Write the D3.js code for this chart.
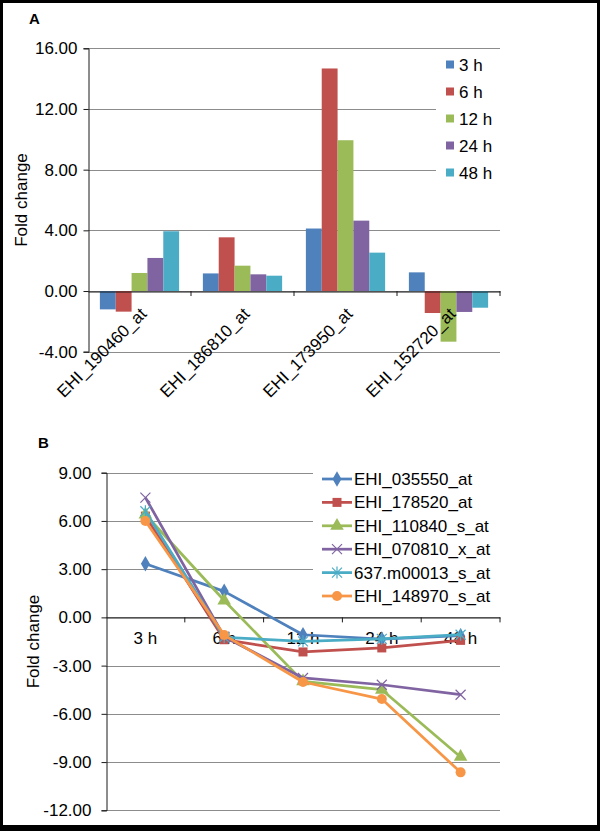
<!DOCTYPE html>
<html>
<head>
<meta charset="utf-8">
<script src="https://cdn.jsdelivr.net/npm/d3@7"></script>
<style>
  html, body { margin: 0; padding: 0; background: #fff; }
  svg { display: block; font-family: "Liberation Sans", Arial, sans-serif; }
</style>
</head>
<body>
<script>
// ---------- Data ----------
const genesA = ["EHI_190460_at", "EHI_186810_at", "EHI_173950_at", "EHI_152720_at"];
const timesA = ["3 h", "6 h", "12 h", "24 h", "48 h"];
const bar3h  = [-1.21, 1.16, 4.12, 1.23];
const bar6h  = [-1.36, 3.54, 14.67, -1.45];
const bar12h = [1.19, 1.67, 9.94, -3.34];
const bar24h = [2.18, 1.10, 4.64, -1.38];
const bar48h = [3.94, 1.01, 2.53, -1.10];
const ticksA = [-4, 0, 4, 8, 12, 16];

const timesB = ["3 h", "6 h", "12 h", "24 h", "48 h"];
const seriesNamesB = ["EHI_035550_at", "EHI_178520_at", "EHI_110840_s_at", "EHI_070810_x_at", "637.m00013_s_at", "EHI_148970_s_at"];
const s035550 = [3.34, 1.62, -1.08, -1.35, -1.14];
const s178520 = [6.3, -1.39, -2.15, -1.9, -1.43];
const s110840 = [6.4, 1.05, -3.98, -4.5, -8.68];
const s070810 = [7.45, -1.2, -3.77, -4.19, -4.81];
const s637     = [6.6, -1.24, -1.49, -1.34, -1.08];
const s148970 = [6.0, -1.1, -4.02, -5.08, -9.64];
const ticksB = [-12, -9, -6, -3, 0, 3, 6, 9];

const colors = ["#4F81BD", "#C0504D", "#9BBB59", "#8064A2", "#4BACC6", "#F79646"];

// ---------- SVG ----------
const W = 600, H = 831;
const svg = d3.select("body").append("svg").attr("width", W).attr("height", H);
svg.append("rect").attr("width", W).attr("height", H).attr("fill", "#fff");

const FONT = 17;
const gridCol = "#8c8c8c";
const axisCol = "#1a1a1a";
const fmt = d => d3.format(".2f")(d).replace("\u2212", "-");

// ================= Panel A =================
const A = { left: 88, right: 500, top: 48.3, bottom: 351.7 };
const yA = d3.scaleLinear().domain([-4, 16]).range([A.bottom, A.top]);
const x0A = d3.scaleBand().domain(genesA).range([A.left, A.right]).padding(0);
const x1A = d3.scaleBand().domain(timesA).range([0, x0A.bandwidth()]).paddingInner(0).paddingOuter(0.75);
const barSeries = [bar3h, bar6h, bar12h, bar24h, bar48h];

const gA = svg.append("g");
// gridlines
gA.append("g").selectAll("line").data(ticksA).join("line")
  .attr("x1", A.left).attr("x2", A.right)
  .attr("y1", d => Math.round(yA(d)) + 0.5).attr("y2", d => Math.round(yA(d)) + 0.5)
  .attr("stroke", gridCol).attr("stroke-width", 1);

// y axis
const yAxisA = d3.axisLeft(yA).tickValues(ticksA).tickSize(5).tickPadding(6).tickFormat(fmt);
const gyA = gA.append("g").attr("transform", `translate(${A.left + 0.5},0)`).call(yAxisA);
gyA.select(".domain").attr("stroke", axisCol);
gyA.selectAll(".tick line").attr("stroke", axisCol);
gyA.selectAll("text").attr("font-size", FONT).attr("fill", "#000").attr("font-family", "Liberation Sans, Arial, sans-serif");

// bars
genesA.forEach((g, gi) => {
  barSeries.forEach((vals, si) => {
    const v = vals[gi];
    const x = x0A(g) + x1A(timesA[si]);
    gA.append("rect")
      .attr("x", x).attr("width", x1A.bandwidth())
      .attr("y", yA(Math.max(0, v)))
      .attr("height", Math.abs(yA(v) - yA(0)))
      .attr("fill", colors[si]);
  });
});

// x axis at zero
const xAxisA = d3.axisBottom(x0A).tickSize(0).tickFormat("");
const gxA = gA.append("g").attr("transform", `translate(0,${Math.round(yA(0)) + 0.5})`).call(xAxisA);
gxA.select(".domain").attr("stroke", axisCol);
const boundsA = genesA.map(g => x0A(g)).concat([A.right]);
gA.append("g").selectAll("line").data(boundsA.slice(1)).join("line")
  .attr("x1", d => d).attr("x2", d => d)
  .attr("y1", yA(0)).attr("y2", yA(0) + 5)
  .attr("stroke", axisCol);
// category labels
gA.append("g").selectAll("text").data(genesA).join("text")
  .attr("transform", d => `translate(${x0A(d) + x0A.bandwidth() / 2 + 8},${yA(0) + 24}) rotate(-45)`)
  .attr("text-anchor", "end")
  .attr("font-size", FONT)
  .text(d => d);

// y label
gA.append("text")
  .attr("transform", `translate(27,${(A.top + A.bottom) / 2}) rotate(-90)`)
  .attr("text-anchor", "middle").attr("font-size", FONT).text("Fold change");

// panel letter
gA.append("text").attr("x", 29).attr("y", 23.5).attr("font-size", 15).attr("font-weight", "bold").text("A");

// legend A
const legA = gA.append("g");
legA.append("rect").attr("x", 436).attr("y", 52).attr("width", 80).attr("height", 134).attr("fill", "#fff");
timesA.forEach((t, i) => {
  const cy = 64.5 + i * 27;
  legA.append("rect").attr("x", 446).attr("y", cy - 4).attr("width", 8).attr("height", 8).attr("fill", colors[i]);
  legA.append("text").attr("x", 459).attr("y", cy + 6).attr("font-size", FONT).text(t);
});

// ================= Panel B =================
const B = { left: 106, right: 500, top: 472.7, bottom: 810.3 };
const yB = d3.scaleLinear().domain([-12, 9]).range([B.bottom, B.top]);
const xB = d3.scalePoint().domain(timesB).range([B.left, B.right]).padding(0.5);
const xBand = d3.scaleBand().domain(timesB).range([B.left, B.right]);
const lineSeries = [s035550, s178520, s110840, s070810, s637, s148970];

const gB = svg.append("g");
gB.append("g").selectAll("line").data(ticksB).join("line")
  .attr("x1", B.left).attr("x2", B.right)
  .attr("y1", d => Math.round(yB(d)) + 0.5).attr("y2", d => Math.round(yB(d)) + 0.5)
  .attr("stroke", gridCol).attr("stroke-width", 1);

// legend background (covers gridlines)
gB.append("rect").attr("x", 313).attr("y", 465).attr("width", 240).attr("height", 143).attr("fill", "#fff");

const yAxisB = d3.axisLeft(yB).tickValues(ticksB).tickSize(5).tickPadding(10).tickFormat(fmt);
const gyB = gB.append("g").attr("transform", `translate(${B.left + 0.5},0)`).call(yAxisB);
gyB.select(".domain").attr("stroke", axisCol);
gyB.selectAll(".tick line").attr("stroke", axisCol);
gyB.selectAll("text").attr("font-size", FONT).attr("fill", "#000").attr("font-family", "Liberation Sans, Arial, sans-serif");

// x axis at zero
const gxB = gB.append("g").attr("transform", `translate(0,${Math.round(yB(0)) + 0.5})`)
  .call(d3.axisBottom(xBand).tickSize(0).tickFormat(""));
gxB.select(".domain").attr("stroke", axisCol);
const boundsB = timesB.map(t => xBand(t)).concat([B.right]);
gB.append("g").selectAll("line").data(boundsB.slice(1)).join("line")
  .attr("x1", d => d).attr("x2", d => d)
  .attr("y1", yB(0)).attr("y2", yB(0) + 5)
  .attr("stroke", axisCol);

// category labels
gB.append("g").selectAll("text").data(timesB).join("text")
  .attr("x", d => xB(d)).attr("y", yB(0) + 27)
  .attr("text-anchor", "middle").attr("font-size", FONT).text(d => d);

// marker drawing
function marker(g, type, x, y, col) {
  const m = g.append("g").attr("transform", `translate(${x},${y})`);
  const r = 5;
  if (type === 0) m.append("path").attr("d", d3.symbol(d3.symbolDiamond, 70)()).attr("fill", col);
  else if (type === 1) m.append("rect").attr("x", -4.5).attr("y", -4.5).attr("width", 9).attr("height", 9).attr("fill", col);
  else if (type === 2) m.append("path").attr("d", d3.symbol(d3.symbolTriangle, 80)()).attr("fill", col);
  else if (type === 3) m.append("path").attr("d", `M${-r},${-r}L${r},${r}M${-r},${r}L${r},${-r}`).attr("stroke", col).attr("stroke-width", 1.2).attr("fill", "none");
  else if (type === 4) m.append("path").attr("d", `M${-r},${-r}L${r},${r}M${-r},${r}L${r},${-r}M0,${-r - 1}L0,${r + 1}`).attr("stroke", col).attr("stroke-width", 1.2).attr("fill", "none");
  else m.append("circle").attr("r", 5).attr("fill", col);
}

const lineGen = d3.line().x((d, i) => xB(timesB[i])).y(d => yB(d));
lineSeries.forEach((vals, si) => {
  gB.append("path").datum(vals).attr("d", lineGen)
    .attr("fill", "none").attr("stroke", colors[si]).attr("stroke-width", 2.75)
    .attr("stroke-linejoin", "round");
  vals.forEach((v, i) => marker(gB, si, xB(timesB[i]), yB(v), colors[si]));
});

// y label
gB.append("text")
  .attr("transform", `translate(39,${(B.top + B.bottom) / 2}) rotate(-90)`)
  .attr("text-anchor", "middle").attr("font-size", FONT).text("Fold change");

// panel letter
gB.append("text").attr("x", 38).attr("y", 447.5).attr("font-size", 15).attr("font-weight", "bold").text("B");

// legend B
seriesNamesB.forEach((name, i) => {
  const cy = 479 + i * 23.4;
  gB.append("line").attr("x1", 322).attr("x2", 352).attr("y1", cy).attr("y2", cy)
    .attr("stroke", colors[i]).attr("stroke-width", 2.75);
  marker(gB, i, 337, cy, colors[i]);
  gB.append("text").attr("x", 354).attr("y", cy + 6).attr("font-size", FONT).text(name);
});

// ---------- outer border ----------
svg.append("rect").attr("x", 0).attr("y", 0).attr("width", W).attr("height", 3).attr("fill", "#000");
svg.append("rect").attr("x", 0).attr("y", 0).attr("width", 3).attr("height", H).attr("fill", "#000");
svg.append("rect").attr("x", 597).attr("y", 0).attr("width", 3).attr("height", H).attr("fill", "#000");
svg.append("rect").attr("x", 0).attr("y", 825).attr("width", W).attr("height", 6).attr("fill", "#000");
</script>
</body>
</html>
